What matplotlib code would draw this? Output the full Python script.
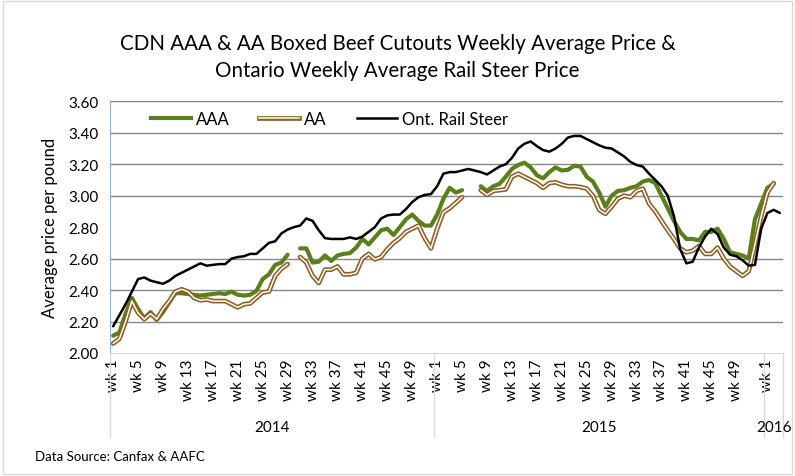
import numpy as np
import matplotlib
matplotlib.use("Agg")
import matplotlib.pyplot as plt
from matplotlib.lines import Line2D
from matplotlib.patches import Rectangle
from matplotlib.legend_handler import HandlerTuple

# ======== DATOS ========
nan = np.nan
years = ["2014", "2015", "2016"]
weeks_per_year = [52, 53, 3]

aaa = [2.11, 2.13, 2.25, 2.35, 2.28, 2.22, 2.26, 2.21, 2.26, 2.32,
       2.38, 2.38, 2.375, 2.37, 2.365, 2.37, 2.375, 2.38, 2.375, 2.39,
       2.37, 2.365, 2.37, 2.395, 2.47, 2.50, 2.56, 2.575, 2.625, nan,
       2.665, 2.665, 2.575, 2.58, 2.62, 2.585, 2.62, 2.63, 2.635, 2.67,
       2.725, 2.69, 2.735, 2.78, 2.79, 2.75, 2.80, 2.85, 2.88, 2.84,
       2.81, 2.81, 2.88, 2.98, 3.05, 3.02, 3.035, nan, nan, 3.06,
       3.03, 3.06, 3.075, 3.12, 3.17, 3.195, 3.21, 3.18, 3.13, 3.11,
       3.15, 3.18, 3.16, 3.165, 3.19, 3.185, 3.12, 3.09, 3.02, 2.93,
       3.00, 3.03, 3.035, 3.05, 3.06, 3.09, 3.10, 3.08, 3.00, 2.92,
       2.84, 2.77, 2.725, 2.725, 2.715, 2.77, 2.77, 2.79, 2.725, 2.64,
       2.63, 2.62, 2.60, 2.85, 2.95, 3.05, 3.075, nan]

aa = [2.06, 2.09, 2.20, 2.33, 2.255, 2.215, 2.25, 2.215, 2.28, 2.33,
      2.39, 2.405, 2.39, 2.35, 2.335, 2.34, 2.33, 2.33, 2.33, 2.31,
      2.29, 2.31, 2.315, 2.35, 2.385, 2.39, 2.49, 2.535, 2.565, nan,
      2.61, 2.575, 2.49, 2.445, 2.53, 2.53, 2.55, 2.50, 2.50, 2.51,
      2.60, 2.63, 2.595, 2.61, 2.66, 2.70, 2.73, 2.77, 2.79, 2.81,
      2.73, 2.665, 2.79, 2.895, 2.92, 2.955, 2.99, nan, nan, 3.035,
      3.005, 3.03, 3.035, 3.04, 3.12, 3.14, 3.12, 3.10, 3.08, 3.05,
      3.08, 3.085, 3.07, 3.06, 3.06, 3.055, 3.045, 3.00, 2.91, 2.885,
      2.93, 2.98, 3.00, 2.99, 3.03, 3.045, 2.95, 2.90, 2.84, 2.78,
      2.725, 2.665, 2.64, 2.65, 2.68, 2.63, 2.63, 2.67, 2.60, 2.55,
      2.52, 2.49, 2.52, 2.69, 2.87, 3.02, 3.08, nan]

rail = [2.17, 2.24, 2.31, 2.39, 2.47, 2.48, 2.46, 2.45, 2.44, 2.46,
        2.49, 2.51, 2.53, 2.55, 2.57, 2.555, 2.56, 2.565, 2.565, 2.60,
        2.61, 2.615, 2.63, 2.63, 2.665, 2.70, 2.71, 2.76, 2.785, 2.80,
        2.81, 2.855, 2.84, 2.78, 2.73, 2.725, 2.725, 2.725, 2.735, 2.725,
        2.74, 2.77, 2.80, 2.855, 2.875, 2.88, 2.88, 2.915, 2.96, 2.99,
        3.005, 3.01, 3.06, 3.14, 3.15, 3.15, 3.16, 3.17, 3.16, 3.15,
        3.135, 3.16, 3.185, 3.20, 3.24, 3.30, 3.33, 3.345, 3.315, 3.29,
        3.28, 3.30, 3.33, 3.37, 3.38, 3.38, 3.36, 3.34, 3.32, 3.305,
        3.30, 3.275, 3.25, 3.215, 3.195, 3.185, 3.14, 3.10, 3.06, 3.00,
        2.87, 2.66, 2.57, 2.58, 2.67, 2.74, 2.79, 2.755, 2.67, 2.625,
        2.615, 2.59, 2.555, 2.56, 2.79, 2.89, 2.91, 2.89]

# ======== ETIQUETAS ========
week_nums = []
for n in weeks_per_year:
    week_nums += list(range(1, n + 1))
x = np.arange(len(rail))

GREEN = "#5b7f1b"
BROWN = "#8e5f22"
FONT = "Lato"

fig = plt.figure(figsize=(7.95, 4.77), dpi=100)
ax = fig.add_axes([0.1384, 0.2579, 0.8465, 0.5276])

ax.plot(x, aaa, color=GREEN, lw=3.0, solid_joinstyle="round", solid_capstyle="round")
ax.plot(x, aa, color=BROWN, lw=3.4, solid_joinstyle="round", solid_capstyle="round")
ax.plot(x, aa, color="white", lw=1.1, solid_joinstyle="round", solid_capstyle="round")
ax.plot(x, rail, color="black", lw=1.8, solid_joinstyle="round", solid_capstyle="round")

ax.set_xlim(-0.5, len(x) - 0.5)
ax.set_ylim(2.0, 3.6)
yt = np.arange(2.0, 3.61, 0.2)
ax.set_yticks(yt, ["%.2f" % v for v in yt], fontsize=11, family=FONT)
ax.grid(axis="y", color="#868686", lw=1.0)
gl = ax.yaxis.get_gridlines()
gl[0].set_visible(False)
gl[4].set_visible(False)
ax.set_axisbelow(True)

# ticks cada 4 semanas (wk 1 ... wk 49)
tick_pos = [i for i, w in enumerate(week_nums) if (w - 1) % 4 == 0 and w <= 49]
ax.set_xticks(tick_pos, ["wk %d" % week_nums[i] for i in tick_pos], rotation=90,
              fontsize=11, family=FONT)
ax.tick_params(length=0, pad=4)
ax.tick_params(axis="y", pad=8)

for s in ["top", "right"]:
    ax.spines[s].set_visible(False)
ax.spines["left"].set_color("#8db3e2")
ax.spines["bottom"].set_color("#d9d9d9")

# separadores de años y etiquetas
trans = ax.get_xaxis_transform()
bounds = np.concatenate([[0], np.cumsum(weeks_per_year)]) - 0.5
for b in bounds:
    ax.plot([b, b], [0, -0.335], color="#d9d9d9", lw=1, transform=trans, clip_on=False)
for k, yr in enumerate(years):
    ax.text((bounds[k] + bounds[k + 1]) / 2, -0.295, yr, transform=trans,
            ha="center", va="center", fontsize=11, family=FONT)

ax.set_ylabel("Average price per pound", fontsize=12, family=FONT, labelpad=8)

# leyenda
h_aaa = Line2D([], [], color=GREEN, lw=3.0)
h_aa = (Line2D([], [], color=BROWN, lw=3.4), Line2D([], [], color="white", lw=1.1))
h_rail = Line2D([], [], color="black", lw=1.8)
ax.legend([h_aaa, h_aa, h_rail], ["AAA", "AA", "Ont. Rail Steer"],
          handler_map={tuple: HandlerTuple(ndivide=1)},
          loc="upper left", bbox_to_anchor=(0.038, 1.02), ncol=3, frameon=False,
          prop={"family": FONT, "size": 12}, handlelength=2.4, handletextpad=0.3,
          columnspacing=1.8)

fig.text(0.5, 0.879, "CDN AAA & AA Boxed Beef Cutouts Weekly Average Price &\n"
         "Ontario Weekly Average Rail Steer Price", ha="center", va="center",
         fontsize=14.8, family=FONT, linespacing=1.45)
fig.text(0.044, 0.033, "Data Source: Canfax & AAFC", fontsize=9.5, family=FONT)

fig.patches.append(Rectangle((0.004, 0.004), 0.992, 0.992, transform=fig.transFigure,
                             fill=False, edgecolor="#d9d9d9", lw=1))

fig.savefig("out.png", dpi=100)
